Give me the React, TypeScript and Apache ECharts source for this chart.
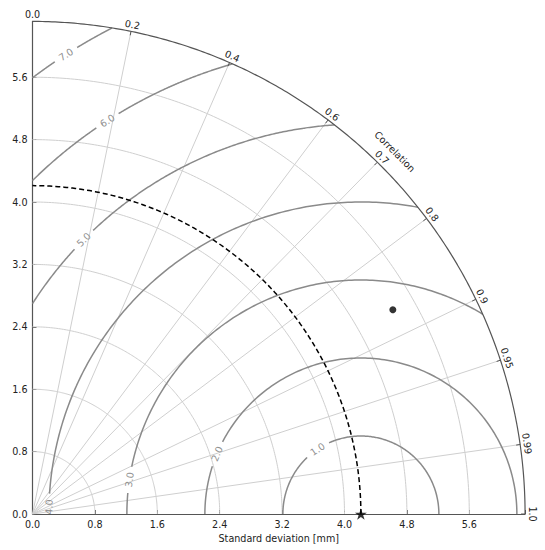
import React, { useEffect, useRef } from "react";
import * as echarts from "echarts";

// ---- data ----
const REF_STD = 4.21;
const MODEL_STD = [5.31];
const MODEL_CORR = [0.87];
const STD_GRID = [0.8, 1.6, 2.4, 3.2, 4.0, 4.8, 5.6];
const CORR_TICKS = [0.0, 0.2, 0.4, 0.6, 0.7, 0.8, 0.9, 0.95, 0.99, 1.0];
const CORR_LABELS = ["0.0", "0.2", "0.4", "0.6", "0.7", "0.8", "0.9", "0.95", "0.99", "1.0"];
const RMS_LEVELS = [1, 2, 3, 4, 5, 6, 7];
const RMS_LABELS = ["1.0", "2.0", "3.0", "4.0", "5.0", "6.0", "7.0"];
const RMS_LABEL_ANGLE_DEG = [123.8, 157.3, 171.6, 178.7, 135.3, 122.8, 122.7];
const AXIS_STEP = 0.8;
const SMAX = 1.5 * REF_STD;
const X_TITLE = "Standard deviation [mm]";
const CORR_TITLE = "Correlation";

// ---- layout / style ----
const PX_PER_UNIT = 78;
const ORIGIN_X = 32.5;
const ORIGIN_Y = 514;
const FONT = "'DejaVu Sans', sans-serif";
const FS = 9.6;
const GRID_COLOR = "#cfcfcf";
const CONTOUR_COLOR = "#8a8a8a";
const AXIS_COLOR = "#555555";
const TEXT_COLOR = "#222222";
const HALF_GAP = 0.17;

const arcPts = (r: number, n = 180) =>
  Array.from({ length: n + 1 }, (_, k) => {
    const t = (Math.PI / 2) * (k / n);
    return [r * Math.cos(t), r * Math.sin(t)];
  });

const line = (data: number[][], color: string, width: number, z: number, type: any = "solid", clip = true) => ({
  type: "line",
  data,
  showSymbol: false,
  symbol: "none",
  silent: true,
  clip,
  z,
  lineStyle: { color, width, type },
  animation: false,
});

function contourSegments(L: number, labelPhi: number): number[][][] {
  const c = REF_STD;
  let phiMin = 0;
  let phiMax = Math.PI;
  if (c + L > SMAX) {
    const x = (SMAX * SMAX - L * L + c * c) / (2 * c);
    phiMin = Math.acos((x - c) / L);
  }
  if (L > c) phiMax = Math.acos(-c / L);
  const g = HALF_GAP / L;
  const ranges = [
    [phiMin, labelPhi - g],
    [labelPhi + g, phiMax],
  ].filter((r) => r[1] > r[0]);
  return ranges.map(([a, b]) => {
    const n = 150;
    return Array.from({ length: n + 1 }, (_, k) => {
      const p = a + ((b - a) * k) / n;
      return [c + L * Math.cos(p), L * Math.sin(p)];
    });
  });
}

function starPath() {
  const pts: string[] = [];
  for (let k = 0; k < 10; k++) {
    const r = k % 2 === 0 ? 50 : 19;
    const a = -Math.PI / 2 + (k * Math.PI) / 5;
    pts.push(`${(50 + r * Math.cos(a)).toFixed(2)} ${(50 + r * Math.sin(a)).toFixed(2)}`);
  }
  return "path://M" + pts.join(" L") + " Z";
}

export default function App() {
  const ref = useRef<HTMLDivElement>(null);
  useEffect(() => {
    if (!ref.current) return;
    const chart = echarts.init(ref.current, undefined, { renderer: "svg" });
    const side = SMAX * PX_PER_UNIT;
    const series: any[] = [];

    STD_GRID.forEach((r) => series.push(line(arcPts(r), GRID_COLOR, 1, 1)));
    CORR_TICKS.filter((c) => c > 0 && c < 1).forEach((c) =>
      series.push(line([[0, 0], [SMAX * c, SMAX * Math.sqrt(1 - c * c)]], GRID_COLOR, 1, 1))
    );
    RMS_LEVELS.forEach((L, i) => {
      const phi = (RMS_LABEL_ANGLE_DEG[i] * Math.PI) / 180;
      contourSegments(L, phi).forEach((seg) => series.push(line(seg, CONTOUR_COLOR, 1.5, 2)));
    });
    series.push(line(arcPts(REF_STD), "#000000", 1.5, 3, [5, 3], false));
    series.push(line(arcPts(SMAX, 240), AXIS_COLOR, 1.2, 4, "solid", false));

    // contour labels
    series.push({
      type: "custom",
      coordinateSystem: "cartesian2d",
      silent: true,
      clip: true,
      z: 5,
      data: RMS_LEVELS.map((L, i) => {
        const phi = (RMS_LABEL_ANGLE_DEG[i] * Math.PI) / 180;
        return [REF_STD + L * Math.cos(phi), L * Math.sin(phi)];
      }),
      renderItem: (params: any, api: any) => {
        const i = params.dataIndex;
        const p = api.coord([api.value(0), api.value(1)]);
        const phi = (RMS_LABEL_ANGLE_DEG[i] * Math.PI) / 180;
        return {
          type: "text",
          x: p[0],
          y: p[1],
          rotation: phi - Math.PI / 2,
          style: {
            text: RMS_LABELS[i],
            fontSize: FS,
            fontFamily: FONT,
            fill: "#8f8f8f",
            align: "center",
            verticalAlign: "middle",
          },
        };
      },
    });

    // correlation ticks + labels
    series.push({
      type: "custom",
      coordinateSystem: "cartesian2d",
      silent: true,
      clip: false,
      z: 6,
      data: CORR_TICKS.map((c) => [c, 0]),
      renderItem: (params: any, api: any) => {
        const i = params.dataIndex;
        const th = Math.acos(CORR_TICKS[i]);
        const p = api.coord([SMAX * Math.cos(th), SMAX * Math.sin(th)]);
        const ux = Math.cos(th);
        const uy = -Math.sin(th);
        const children: any[] = [
          {
            type: "line",
            shape: { x1: p[0], y1: p[1], x2: p[0] - 4 * ux, y2: p[1] - 4 * uy },
            style: { stroke: AXIS_COLOR, lineWidth: 1 },
          },
          {
            type: "text",
            x: p[0] + 7 * ux,
            y: p[1] + 7 * uy,
            rotation: th - Math.PI / 2,
            style: {
              text: CORR_LABELS[i],
              fontSize: FS,
              fontFamily: FONT,
              fill: TEXT_COLOR,
              align: "center",
              verticalAlign: "middle",
            },
          },
        ];
        if (i === 0) {
          const t = Math.PI / 4;
          const q = api.coord([SMAX * Math.cos(t), SMAX * Math.sin(t)]);
          children.push({
            type: "text",
            x: q[0] + 20 * Math.cos(t),
            y: q[1] - 20 * Math.sin(t),
            rotation: t - Math.PI / 2,
            style: {
              text: CORR_TITLE,
              fontSize: FS,
              fontFamily: FONT,
              fill: TEXT_COLOR,
              align: "center",
              verticalAlign: "middle",
            },
          });
        }
        return { type: "group", children };
      },
    });

    series.push({
      type: "scatter",
      data: MODEL_STD.map((s, i) => [s * MODEL_CORR[i], s * Math.sqrt(1 - MODEL_CORR[i] ** 2)]),
      symbol: "circle",
      symbolSize: 7,
      itemStyle: { color: "#000000" },
      clip: false,
      silent: true,
      z: 10,
    });
    series.push({
      type: "scatter",
      data: [[REF_STD, 0]],
      symbol: starPath(),
      symbolKeepAspect: true,
      symbolSize: 12,
      itemStyle: { color: "#000000" },
      clip: false,
      silent: true,
      z: 10,
    });

    const fmt = (v: number) => {
      const k = v / AXIS_STEP;
      return Math.abs(k - Math.round(k)) < 1e-6 ? v.toFixed(1) : "";
    };
    const axisCommon = {
      type: "value",
      min: 0,
      max: SMAX,
      interval: AXIS_STEP,
      splitLine: { show: false },
      axisLine: { show: true, lineStyle: { color: AXIS_COLOR, width: 1.2 } },
      axisTick: { show: true, inside: true, length: 4, lineStyle: { color: AXIS_COLOR } },
      axisLabel: { formatter: fmt, fontSize: FS, fontFamily: FONT, color: TEXT_COLOR, margin: 5 },
    };

    chart.setOption({
      animation: false,
      backgroundColor: "#ffffff",
      grid: {
        left: ORIGIN_X,
        top: ORIGIN_Y - side,
        width: side,
        height: side,
        containLabel: false,
      },
      xAxis: {
        ...axisCommon,
        name: X_TITLE,
        nameLocation: "middle",
        nameGap: 17,
        nameTextStyle: { fontSize: FS, fontFamily: FONT, color: TEXT_COLOR },
      },
      yAxis: { ...axisCommon },
      series,
    });
    return () => chart.dispose();
  }, []);

  return (
    <div
      ref={ref}
      style={{ position: "fixed", left: 0, top: 0, width: 545, height: 550, background: "#fff" }}
    />
  );
}
